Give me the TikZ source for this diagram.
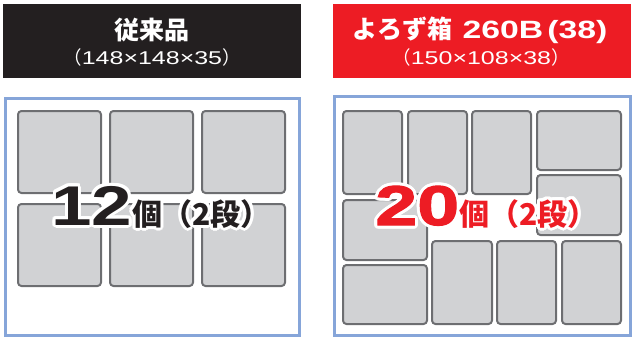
\documentclass[tikz,border=0pt]{standalone}
\usepackage{fontspec}
\setmainfont{Liberation Sans}[FakeStretch=1.35]
\newfontfamily\jp{Noto Sans CJK JP}
\newfontfamily\widedigits{Liberation Sans}[FakeStretch=1.3]
\newfontfamily\heavydigits{Liberation Sans}[FakeStretch=1.35, FakeBold=2]
\usetikzlibrary{positioning}
\definecolor{headblack}{HTML}{231F20}
\definecolor{headred}{HTML}{ED1C24}
\definecolor{frameblue}{HTML}{86A5D9}
\definecolor{boxfill}{HTML}{D1D2D4}
\definecolor{boxline}{HTML}{6D6E71}

\newcommand{\countold}{{\widedigits\fontsize{56}{56}\selectfont\bfseries 12}{\jp\bfseries\fontsize{30}{30}\selectfont 個（2段）}}
\newcommand{\countnew}{{\heavydigits\fontsize{56}{56}\selectfont\bfseries 20}{\jp\bfseries\fontsize{30}{30}\selectfont 個（2段）}}

\begin{document}
\begin{tikzpicture}[
    x=1pt, y=-1pt,
    head/.style = {minimum width=298, minimum height=74, inner sep=0},
    title/.style = {text=white, inner sep=0, font=\jp\bfseries\fontsize{25}{25}\selectfont},
    sub/.style = {text=white, inner sep=0, font=\fontsize{18.5}{18.5}\selectfont},
    frame/.style = {draw=frameblue, line width=3},
    box/.style = {draw=boxline, fill=boxfill, line width=2, rounded corners=3.5, inner sep=0},
    count/.style = {anchor=base west, inner sep=0}
    ]
    \useasboundingbox (0,0) rectangle (637,337);
    % Headers
    \node[head, fill=headblack] (head-l) at (152,41) {};
    \node[head, fill=headred] (head-r) at (482,41) {};
    \node[title] (title-l) at (152,30) {従来品};
    \node[title] (title-r) at (480,30) {よろず箱\hspace{0.4em}{\fontfamily{\familydefault}\selectfont\bfseries 260B\,(38)}};
    \node[sub] (sub-l) at (152,57) {{\jp （}148×148×35{\jp ）}};
    \node[sub] (sub-r) at (481,57) {{\jp （}150×108×38{\jp ）}};
    % Frames
    \draw[frame] (5.5,98.5) rectangle (299.5,335.5);
    \draw[frame] (334.5,96.5) rectangle (630.5,335.5);
    % Old boxes, 3 x 2
    \foreach \c in {1,2,3}
      \foreach \r in {1,2}
        \node[box, minimum width=83, minimum height=82] (l-\r-\c)
          at ({59.5+(\c-1)*92}, {152+(\r-1)*93}) {};
    % New boxes
    \foreach \n/\x/\y/\w/\h in {a/372.5/152.5/59/83, b/437.5/152.5/59/83,
        c/501.5/152.5/59/83, d/579/140.5/84/59, e/579/205/84/60,
        f/385/230/84/60, g/385/294.5/84/59, h/462/282.5/60/83,
        i/526.5/282.5/59/83, j/591.5/282.5/59/83}
      \node[box, minimum width=\w, minimum height=\h] (r-\n) at (\x,\y) {};
    % Counts with white halo
    \coordinate (cnt-l) at (51,225);
    \coordinate (cnt-r) at (375,225);
    \foreach \a in {0,22.5,...,337.5} {
      \node[count, text=white, shift={(\a:3)}] at (cnt-l) {\countold};
      \node[count, text=white, shift={(\a:3)}] at (cnt-r) {\countnew};
    }
    \node[count, text=headblack] (count-l) at (cnt-l) {\countold};
    \node[count, text=headred] (count-r) at (cnt-r) {\countnew};
\end{tikzpicture}
\end{document}
